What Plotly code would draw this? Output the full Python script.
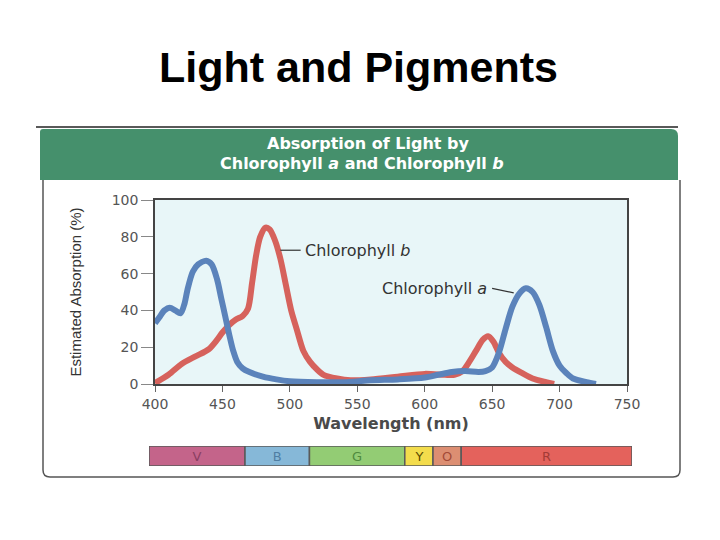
import plotly.graph_objects as go

# ---- data ----
chl_a_wl = [400, 403, 407, 411, 415, 419, 422, 424, 428, 432, 438, 442, 446, 449, 452, 455, 458, 461, 465, 470, 480, 490, 500, 520, 540, 560, 580, 600, 610, 620, 630, 640, 645, 650, 655, 660, 665, 670, 675, 680, 685, 690, 695, 700, 705, 710, 720, 727]
chl_a_abs = [33, 36, 40, 41.5, 40, 38.5, 44, 51, 61, 65, 67, 65, 57, 47, 37, 27, 18, 12, 8.5, 6.5, 4, 2.5, 1.5, 1, 1, 2, 2.5, 3.5, 5, 6.5, 7, 6.5, 7, 9, 17, 30, 42, 49, 52, 50, 43, 31, 18, 10, 6, 3, 1, 0]

chl_b_wl = [400, 410, 420, 430, 440, 446, 450, 455, 460, 465, 469, 472, 475, 478, 482, 485, 489, 493, 497, 501, 505, 510, 515, 520, 525, 535, 545, 560, 580, 600, 615, 622, 628, 633, 638, 643, 647, 651, 655, 660, 665, 672, 680, 690, 696]
chl_b_abs = [0.5, 5, 11, 15, 19, 24, 28, 32, 35, 37, 41, 55, 70, 80, 85, 84, 78, 68, 54, 40, 30, 18, 12, 8, 5, 3, 2, 2.5, 4, 5.5, 5, 5, 7, 12, 18, 24, 26, 23, 17, 12, 9, 6, 3, 1, 0]

x_ticks = [400, 450, 500, 550, 600, 650, 700, 750]
y_ticks = [0, 20, 40, 60, 80, 100]

band_labels = ["V", "B", "G", "Y", "O", "R"]
band_start = [395.5, 467, 515, 586, 607, 628]
band_end = [467, 515, 586, 607, 628, 755.2]

title_text = "Light and Pigments"
banner_line1 = "Absorption of Light by"
banner_line2 = "Chlorophyll <i>a</i> and Chlorophyll <i>b</i>"
x_title = "Wavelength (nm)"
y_title = "Estimated Absorption (%)"
label_a = "Chlorophyll <i>a</i>"
label_b = "Chlorophyll <i>b</i>"

# ---- styles ----
W, H = 720, 540
OFF = 8  # page body margin that shifts the figure in the window
BLUE = "#5b83bb"
RED = "#d6625c"
band_fill = ["#c4648a", "#86b8d8", "#93cc74", "#f3dc4c", "#dc8e72", "#e4625c"]
band_text = ["#8a3f62", "#4f7ea3", "#4f8a3e", "#5a4a00", "#a34a38", "#a33b36"]


def px(x):
    return (x - OFF) / W


def py(y):
    return 1 - (y - OFF) / H


fig = go.Figure()

fig.add_trace(go.Scatter(x=chl_b_wl, y=chl_b_abs, mode="lines",
                         line=dict(color=RED, width=6, shape="spline", smoothing=0.8),
                         hoverinfo="skip", showlegend=False))
fig.add_trace(go.Scatter(x=chl_a_wl, y=chl_a_abs, mode="lines",
                         line=dict(color=BLUE, width=6, shape="spline", smoothing=0.8),
                         hoverinfo="skip", showlegend=False))

for lab, s, e, fc, tc in zip(band_labels, band_start, band_end, band_fill, band_text):
    fig.add_trace(go.Bar(x=[e - s], base=[s], y=[0], orientation="h", width=1,
                         marker=dict(color=fc, line=dict(color="#5a5a5a", width=1.5)),
                         text=[lab], textposition="inside", insidetextanchor="middle",
                         textangle=0, constraintext="none",
                         textfont=dict(family="DejaVu Sans", size=13, color=tc),
                         xaxis="x2", yaxis="y2", hoverinfo="skip", showlegend=False))

axis_font = dict(family="DejaVu Sans", size=14, color="#555")

fig.update_layout(
    width=W, height=H,
    autosize=False,
    margin=dict(l=0, r=0, t=0, b=0, pad=0, autoexpand=False),
    paper_bgcolor="white",
    plot_bgcolor="#e8f6f8",
    barmode="overlay",
    xaxis=dict(domain=[px(155), px(627)], range=[400, 750], tickvals=x_ticks,
               ticks="outside", ticklen=6, tickcolor="#666", tickwidth=1,
               showgrid=False, zeroline=False, showline=True, linecolor="#444",
               linewidth=1.5, mirror=True, tickfont=axis_font, automargin=False,
               title=dict(text=x_title, standoff=7,
                          font=dict(family="DejaVu Sans", size=16, color="#4a4a4a", weight="bold")),
               fixedrange=True, anchor="y"),
    yaxis=dict(domain=[py(384), py(200)], range=[0, 100], tickvals=y_ticks,
               ticks="outside", ticklen=12, tickcolor="#888", tickwidth=1,
               showgrid=False, zeroline=False, showline=True, linecolor="#444",
               linewidth=1.5, mirror=True, tickfont=axis_font, automargin=False,
               title=dict(text=y_title, standoff=26,
                          font=dict(family="Liberation Sans", size=15, color="#333")),
               fixedrange=True, anchor="x"),
    xaxis2=dict(domain=[px(149), px(632)], range=[395.5, 755.2], visible=False,
                anchor="y2", fixedrange=True, automargin=False),
    yaxis2=dict(domain=[py(466), py(446)], range=[-0.5, 0.5], visible=False,
                anchor="x2", fixedrange=True, automargin=False),
)

# frame and banner
fig.add_shape(type="line", xref="paper", yref="paper", x0=px(36), x1=px(678), y0=py(127), y1=py(127),
              line=dict(color="#222", width=1.5), layer="below")
fig.add_shape(type="path", xref="paper", yref="paper",
              path=f"M {px(43)},{py(178)} L {px(43)},{py(470)} Q {px(43)},{py(477)} {px(50)},{py(477)} "
                   f"L {px(673)},{py(477)} Q {px(680)},{py(477)} {px(680)},{py(470)} L {px(680)},{py(180)}",
              line=dict(color="#555", width=1.5), layer="below")
fig.add_shape(type="path", xref="paper", yref="paper",
              path=f"M {px(40)},{py(180)} L {px(40)},{py(132)} Q {px(40)},{py(129)} {px(43)},{py(129)} "
                   f"L {px(671)},{py(129)} Q {px(678)},{py(129)} {px(678)},{py(136)} L {px(678)},{py(180)} Z",
              fillcolor="#45906c", line=dict(width=0), layer="below")

# leader lines
fig.add_shape(type="line", xref="x", yref="y", x0=493, x1=508, y0=72.7, y1=72.7,
              line=dict(color="#333", width=1.2))
fig.add_shape(type="line", xref="x", yref="y", x0=650, x1=666, y0=52, y1=49.5,
              line=dict(color="#333", width=1.2))

fig.add_annotation(text=title_text, xref="paper", yref="paper", x=px(358), y=py(67),
                   showarrow=False, xanchor="center", yanchor="middle",
                   font=dict(family="Liberation Sans", size=43, color="black", weight="bold"))
fig.add_annotation(text=banner_line1, xref="paper", yref="paper", x=px(368), y=py(143),
                   showarrow=False, xanchor="center", yanchor="middle",
                   font=dict(family="DejaVu Sans", size=16, color="white", weight="bold"))
fig.add_annotation(text=banner_line2, xref="paper", yref="paper", x=px(362), y=py(164),
                   showarrow=False, xanchor="center", yanchor="middle",
                   font=dict(family="DejaVu Sans", size=16, color="white", weight="bold"))
fig.add_annotation(text=label_b, xref="x", yref="y", x=510, y=72.7,
                   showarrow=False, xanchor="left", yanchor="middle",
                   font=dict(family="DejaVu Sans", size=16, color="#333"))
fig.add_annotation(text=label_a, xref="x", yref="y", x=648, y=52,
                   showarrow=False, xanchor="right", yanchor="middle",
                   font=dict(family="DejaVu Sans", size=16, color="#333"))

fig.write_html("out.html", config={"displayModeBar": False})
